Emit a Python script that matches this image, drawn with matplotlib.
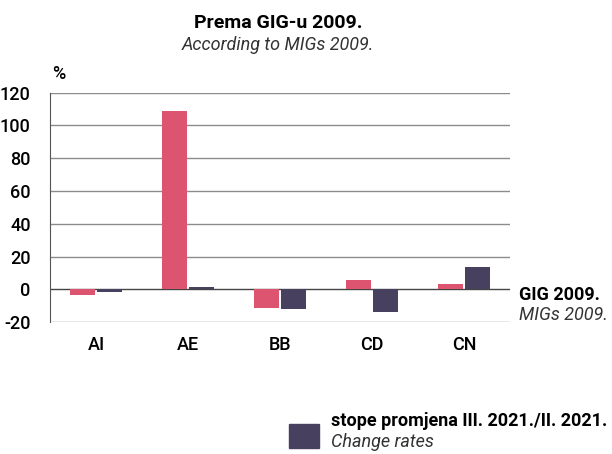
import matplotlib
matplotlib.use("Agg")
import matplotlib.pyplot as plt
from matplotlib.patches import Rectangle

plt.rcParams['font.family'] = ['Roboto', 'DejaVu Sans']

# data
categories = ['AI', 'AE', 'BB', 'CD', 'CN']
gig_values = [-3.2, 108.5, -11.3, 5.5, 3.2]       # pink series
change_rates = [-1.4, 1.4, -11.9, -13.8, 13.8]    # dark series
yticks = [-20, 0, 20, 40, 60, 80, 100, 120]

pink = '#dc5470'
dark = '#48405f'

fig = plt.figure(figsize=(6.12, 4.54), dpi=100)
ax = fig.add_axes([50/612, 131.7/454, 460/612, 229.8/454])

x = range(len(categories))
w = 0.27
off = 0.15
ax.bar([i - off for i in x], gig_values, width=w, color=pink, zorder=3)
ax.bar([i + off for i in x], change_rates, width=w, color=dark, zorder=3)

ax.set_xlim(-0.5, 4.5)
ax.set_ylim(-20, 120)
ax.set_yticks(yticks)
ax.set_yticklabels([str(v) for v in yticks], fontsize=13, fontweight='medium')
ax.set_xticks(list(x))
ax.set_xticklabels(categories, fontsize=13, fontweight='medium')
ax.tick_params(axis='y', length=0, pad=14)
ax.tick_params(axis='x', length=0, pad=10)

for v in yticks:
    ax.axhline(v, color='#8c8c8c' if v != 0 else '#444444', lw=1.0, zorder=1)
for s in ['top', 'right', 'bottom']:
    ax.spines[s].set_visible(False)
ax.spines['left'].set_color('#555555')

fig.text(278/612, 1 - 28/454, 'Prema GIG-u 2009.', ha='center', va='baseline',
         fontsize=14, fontweight='bold')
fig.text(278/612, 1 - 50/454, 'According to MIGs 2009.', ha='center', va='baseline',
         fontsize=13, style='italic', color='#333333')
fig.text(52/612, 1 - 79/454, '%', ha='left', va='baseline', fontsize=13,
         fontweight='medium')

fig.text(519/612, 1 - 300/454, 'GIG 2009.', ha='left', va='baseline',
         fontsize=13, fontweight='bold')
fig.text(519/612, 1 - 320/454, 'MIGs 2009.', ha='left', va='baseline',
         fontsize=13, style='italic', color='#333333')

fig.patches.append(Rectangle((289/612, 1 - 448/454), 30/612, 24/454,
                             transform=fig.transFigure, color=dark))
fig.text(331/612, 1 - 421/454, 'stope promjena III. 2021./II. 2021.', ha='left',
         va='center', fontsize=13, fontweight='bold')
fig.text(331/612, 1 - 442/454, 'Change rates', ha='left', va='center',
         fontsize=13, style='italic', color='#333333')

fig.savefig('out.png', dpi=100)
